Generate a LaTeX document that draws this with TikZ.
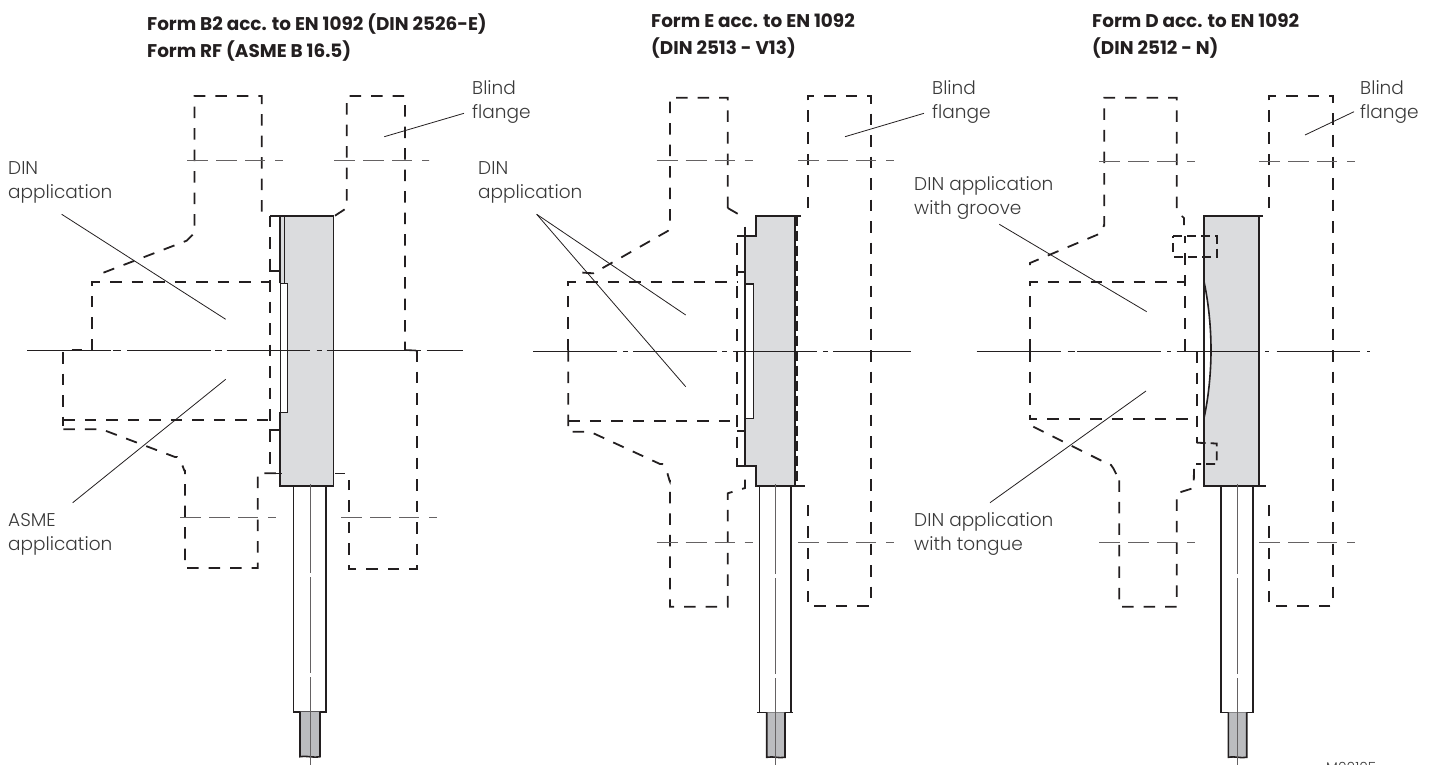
\documentclass[tikz,border=0pt]{standalone}
\usepackage{fontspec}
\setmainfont{Lato}
\newfontfamily\labfont{Poppins}[UprightFont=* Light]
\newfontfamily\ttlfont{Poppins}[UprightFont=* Bold]
\definecolor{ink}{HTML}{231F20}
\definecolor{txt}{HTML}{3A3A3A}
\definecolor{body}{HTML}{DBDCDE}
\definecolor{rod}{HTML}{BBBCBF}
\newcommand{\lbstrut}{\rule{0pt}{14pt}}
\tikzset{
  sol/.style={draw=ink,line width=1.6pt,line join=miter},
  hid/.style={draw=ink,line width=1.8pt,dash pattern=on 11.5pt off 10pt},
  hidsmall/.style={draw=ink,line width=1.8pt,dash pattern=on 9pt off 5pt},
  boltline/.style={draw=ink!70,line width=1pt,dash pattern=on 21pt off 8pt on 21pt off 8pt on 20pt off 10pt on 7pt off 0pt},
  axis/.style={draw=ink,line width=1pt},
  axv/.style={draw=ink!70,line width=1pt},
  leader/.style={draw=ink,line width=0.8pt},
  lab/.style={font=\labfont\fontsize{18.5}{24}\selectfont,text=txt,align=left,anchor=north west,inner sep=0pt},
  ttl/.style={font=\ttlfont\fontsize{18.4}{27}\selectfont,text=ink,align=left,anchor=north west,inner sep=0pt},
}
\begin{document}
\begin{tikzpicture}[x=1pt,y=-1pt]
\useasboundingbox (0,0) rectangle (1434,765);
% titles
\node[ttl] (t1) at (147,13.5) {\lbstrut Form B2 acc. to EN 1092 (DIN 2526-E)\\Form RF (ASME B 16.5)};
\node[ttl] (t2) at (651,13.5) {\lbstrut Form E acc. to EN 1092\\(DIN 2513 - V13)};
\node[ttl] (t3) at (1092,13.5) {\lbstrut Form D acc. to EN 1092\\(DIN 2512 - N)};
% ===== PANEL 1
\fill[body] (280,215.7) rectangle (333.3,485.7);
\fill[white] (280,283.3) rectangle (287.3,412.3);
\draw[sol] (280,283.3) -- (280,215.7);
\draw[sol] (284.3,215.7) -- (284.3,283.3);
\draw[sol] (280,412.3) -- (280,485.7) -- (333.3,485.7) -- (333.3,215.7) -- (270,215.7);
\draw[draw=ink,line width=1pt] (280,283.3) -- (280,412.3);
\draw[sol] (280,283.3) -- (287.3,283.3) -- (287.3,412.3) -- (280,412.3);
\draw[sol] (269,271) -- (281,271) (269,430) -- (280,430) (265,473.3) -- (282,473.3) (335,473.3) -- (345,473.3);
% stem
\draw[sol] (293.3,485.7) -- (293.3,711.7) -- (325.7,711.7) -- (325.7,485.7);
\fill[rod] (300,711.7) -- (320,711.7) -- (320,756.7) .. controls (312,755.5) and (308,758) .. (300,756.7) -- cycle;
\draw[sol] (300,711.7) -- (300,756.7) .. controls (308,755.5) and (312,758) .. (320,756.7) -- (320,711.7);
\draw[axv] (310,484) -- (310,573) (310,577) -- (310,673) (310,677) -- (310,765);
% hidden upper flange
\draw[hid] (261.7,211.7) -- (261.7,96) -- (194.5,96) -- (194.5,233) -- (186.7,240.7) -- (100,274);
\draw[hid] (91.7,350) -- (91.7,282.3) -- (270,282.3);
\draw[hid] (270,215.7) -- (270,473.3);
\draw[hid] (63.3,352) -- (63.3,426);
\draw[hid] (63.3,419.7) -- (270,419.7);
\draw[sol] (71.7,350) -- (81.7,350);
\draw[hid] (63.3,429.3) -- (101.7,429.3) -- (175,457) to[out=25,in=-90] (185,470) -- (185,568) -- (257.7,568) -- (257.7,473.3) -- (281,473.3);
\draw[hid] (335,215.7) -- (346.7,208) -- (346.7,96) -- (405,96) -- (405,350);
\draw[sol] (405,350) -- (416,350.5);
\draw[hid] (416.7,350) -- (416.7,569) -- (349,569) -- (349,480);
% bolt lines
\draw[boltline] (187,160.7) -- (283,160.7);
\draw[boltline] (334,160.7) -- (429,160.7);
\draw[boltline] (180,517.3) -- (275.7,517.3);
\draw[boltline] (341,517.3) -- (436.7,517.3);
% centre line
\draw[axis] (27.3,350) -- (110.7,350) (113,350) -- (121,350) (127,350) -- (210.7,350) (215,350) -- (221.7,350) (226.7,350) -- (310,350) (316.7,350) -- (321.7,350) (326.7,350) -- (413,350) (418,350) -- (421,350) (426.7,350) -- (463,350);
% leaders + labels
\node[lab] (l1) at (8,160) {\lbstrut DIN\\application};
\node[lab] (l2) at (8,512.7) {\lbstrut ASME\\application};
\node[lab] (l3) at (472,80) {\lbstrut Blind\\flange};
\coordinate (l1s) at (61.7,214.3); \coordinate (l1e) at (225.7,319.3);
\coordinate (l2s) at (72.7,502.7); \coordinate (l2e) at (225.7,379.3);
\coordinate (l3s) at (464,113.3); \coordinate (l3e) at (384.3,136.7);
\draw[leader] (l1s) -- (l1e);
\draw[leader] (l2s) -- (l2e);
\draw[leader] (l3s) -- (l3e);
% ===== PANEL 2
\fill[body] (756,215.7) -- (795,215.7) -- (795,485.7) -- (756,485.7) -- (756,466) -- (745,466) -- (745,235.7) -- (756,235.7) -- cycle;
\fill[white] (745,284) rectangle (753.3,418.3);
\draw[sol] (801,215.7) -- (756,215.7) -- (756,235.7) -- (737,235.7);
\draw[sol] (745,226.7) -- (745,466) -- (756,466) -- (756,485.7) -- (805,485.7);
\draw[sol] (795,215.7) -- (795,485.7);
\draw[hid,dash pattern=on 10pt off 5pt] (796.8,215.7) -- (796.8,485.7);
\draw[sol] (745,284) -- (753.3,284) -- (753.3,418.3) -- (745,418.3);
\draw[sol] (737,272) -- (745,272) (737,430.7) -- (745,430.7) (737,466) -- (745,466);
\draw[sol] (759.3,485.7) -- (759.3,712.3) -- (791,712.3) -- (791,485.7);
\draw[sol] (757,712.3) -- (793,712.3);
\fill[rod] (766.7,712.3) -- (785,712.3) -- (785,757.3) .. controls (778,756) and (774,758.5) .. (766.7,757.3) -- cycle;
\draw[sol] (766.7,712.3) -- (766.7,757.3) .. controls (774,756) and (778,758.5) .. (785,757.3) -- (785,712.3);
\draw[axv] (775.7,484) -- (775.7,574) (775.7,578) -- (775.7,674) (775.7,678) -- (775.7,765);
\draw[hid] (727.7,208) -- (727.7,97.7) -- (670,97.7) -- (670,225) to[out=90,in=-25] (666,232) -- (593.3,273.3) -- (573,272);
\draw[hid] (727.7,208) -- (743.3,217);
\draw[hid] (568.3,350) -- (568.3,281.7) -- (737,281.7);
\draw[hid] (737.3,243) -- (737.3,466.7);
\draw[hid] (568.3,350) -- (568.3,431.7) -- (590,431.7) -- (660,464) to[out=25,in=-90] (670,480) -- (670,606.7) -- (727.7,606.7) -- (727.7,493.3) -- (745,488) -- (745,470);
\draw[hid] (568.3,421) -- (737,421);
\draw[hid] (807.7,208) -- (807.7,95.7) -- (871,95.7) -- (871,605.7) -- (807.7,605.7) -- (807.7,495);
\draw[boltline] (656.7,160.7) -- (752.3,160.7);
\draw[boltline] (798,160.7) -- (894,160.7);
\draw[boltline] (656.7,542.7) -- (752.3,542.7);
\draw[boltline] (798,542.7) -- (894,542.7);
\draw[axis] (533,351) -- (617,351) (623,351) -- (628,351) (633,351) -- (717,351) (722,351) -- (727,351) (733,351) -- (817,351) (823,351) -- (828,351) (833,351) -- (910.7,351);
\node[lab] (m1) at (478,160) {\lbstrut DIN\\application};
\node[lab] (m3) at (932,80) {\lbstrut Blind\\flange};
\coordinate (m1s) at (536.7,214.3); \coordinate (m1a) at (685.7,315); \coordinate (m1b) at (685.7,386.7);
\coordinate (m3s) at (924,113.3); \coordinate (m3e) at (845,136.7);
\draw[leader] (m1s) -- (m1a);
\draw[leader] (m1s) -- (m1b);
\draw[leader] (m3s) -- (m3e);
% ===== PANEL 3
\fill[body] (1204,216) -- (1259,216) -- (1259,485.7) -- (1204,485.7) -- cycle;
\fill[white] (1204,281.7) .. controls (1208,300) and (1211,325) .. (1211,350) .. controls (1211,375) and (1208,400) .. (1204,418) -- cycle;
\draw[sol] (1263,216) -- (1204,216) -- (1204,485.7) -- (1266,485.7);
\draw[sol] (1259,216) -- (1259,485.7);
\draw[sol] (1204,281.7) .. controls (1208,300) and (1211,325) .. (1211,350) .. controls (1211,375) and (1208,400) .. (1204,418);
\draw[sol] (1221,485.7) -- (1221,712.3) -- (1253,712.3) -- (1253,485.7);
\fill[rod] (1228.3,712.3) -- (1246.7,712.3) -- (1246.7,757.3) .. controls (1240,756) and (1236,758.5) .. (1228.3,757.3) -- cycle;
\draw[sol] (1228.3,712.3) -- (1228.3,757.3) .. controls (1236,756) and (1240,758.5) .. (1246.7,757.3) -- (1246.7,712.3);
\draw[axv] (1237.3,484) -- (1237.3,574) (1237.3,578) -- (1237.3,674) (1237.3,678) -- (1237.3,765);
\draw[hid] (1176.7,208) -- (1176.7,97.7) -- (1104.3,97.7) -- (1104.3,225) to[out=90,in=-20] (1099,234) -- (1030,263) -- (1030,270);
\draw[sol] (1181.7,216) -- (1184,218) -- (1184,225);
\draw[hid] (1030,350) -- (1030,281.7) -- (1185,281.7);
\draw[hid] (1185,350.7) -- (1185,236);
\draw[hidsmall] (1173.3,236) -- (1216.7,236) -- (1216.7,256.7) -- (1173.3,256.7) -- (1173.3,236);
\draw[hid] (1030,350) -- (1030,419) -- (1196.7,419);
\draw[hid] (1196.7,351) -- (1196.7,442.7);
\draw[hidsmall] (1196.7,442.7) -- (1216.7,443.5) -- (1216.7,464) -- (1196,464);
\draw[hid] (1033.3,426.7) -- (1106,463) to[out=25,in=-90] (1119.3,478) -- (1119.3,606.7) -- (1176.7,606.7) -- (1176.7,493.3) -- (1193.7,488) -- (1194,466.7) -- (1201.7,466);
\draw[hid] (1269.3,208) -- (1269.3,95.7) -- (1332.7,95.7) -- (1332.7,605.7) -- (1269.3,605.7) -- (1269.3,495);
\draw[boltline] (1099.3,161) -- (1195,161);
\draw[boltline] (1259.3,161) -- (1355,161);
\draw[boltline] (1099.3,542.7) -- (1195,542.7);
\draw[boltline] (1259.3,542.7) -- (1355,542.7);
\draw[axis] (976.7,351) -- (1060.7,351) (1067.7,351) -- (1075,351) (1077.3,351) -- (1160.7,351) (1167,351) -- (1171,351) (1176.7,351) -- (1259,351) (1265,351) -- (1269,351) (1276.7,351) -- (1360,351) (1367,351) -- (1370,351);
\node[lab] (r1) at (914,176) {\lbstrut DIN application\\with groove};
\node[lab] (r2) at (914,512.7) {\lbstrut DIN application\\with tongue};
\node[lab] (r3) at (1360,80) {\lbstrut Blind\\flange};
\coordinate (r1s) at (999.3,224.3); \coordinate (r1e) at (1146.7,311.7);
\coordinate (r2s) at (990,502.7); \coordinate (r2e) at (1146,391);
\coordinate (r3s) at (1354,111.7); \coordinate (r3e) at (1305,135);
\draw[leader] (r1s) -- (r1e);
\draw[leader] (r2s) -- (r2e);
\draw[leader] (r3s) -- (r3e);
\node[font=\labfont\fontsize{14}{14}\selectfont,text=txt,anchor=north west,inner sep=0pt] (code) at (1326,762) {M00105};
\end{tikzpicture}
\end{document}
